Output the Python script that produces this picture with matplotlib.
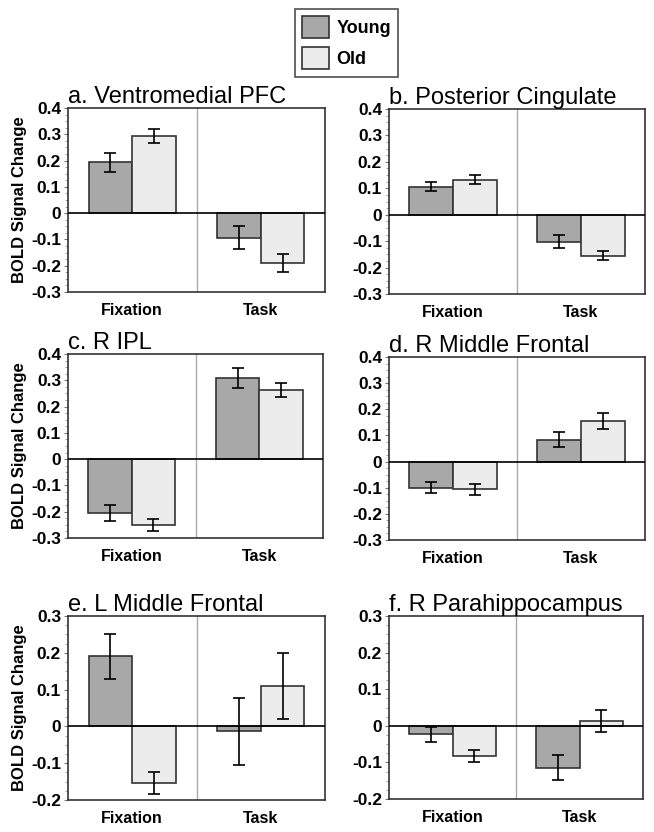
import numpy as np
import matplotlib.pyplot as plt
from matplotlib.patches import Patch
from matplotlib.ticker import MultipleLocator

plt.rcParams['font.family'] = ['Liberation Sans', 'DejaVu Sans']

conditions = ['Fixation', 'Task']
groups = ['Young', 'Old']

titles = ['a. Ventromedial PFC', 'b. Posterior Cingulate', 'c. R IPL',
          'd. R Middle Frontal', 'e. L Middle Frontal', 'f. R Parahippocampus']

# mean (fixation, task) per group, and error bar half-widths
young_vals = [[0.193, -0.093], [0.105, -0.102], [-0.204, 0.309],
              [-0.100, 0.083], [0.190, -0.013], [-0.023, -0.115]]
old_vals = [[0.295, -0.190], [0.133, -0.156], [-0.250, 0.262],
            [-0.106, 0.154], [-0.153, 0.110], [-0.082, 0.013]]
young_err = [[0.036, 0.045], [0.017, 0.025], [0.031, 0.039],
             [0.021, 0.029], [0.061, 0.091], [0.020, 0.034]]
old_err = [[0.027, 0.033], [0.017, 0.017], [0.024, 0.027],
           [0.022, 0.031], [0.030, 0.090], [0.016, 0.030]]

ylims = [(-0.3, 0.4)] * 4 + [(-0.2, 0.3)] * 2
yticks_top = [-0.3, -0.2, -0.1, 0, 0.1, 0.2, 0.3, 0.4]
yticks_bot = [-0.2, -0.1, 0, 0.1, 0.2, 0.3]

young_color = '#a8a8a8'
old_color = '#ececec'
edge = '#333333'

W, H = 654, 832
fig = plt.figure(figsize=(W / 100, H / 100), dpi=100)

# axes boxes in pixels: left, top, right, bottom
boxes = [(68, 108, 325, 292), (389, 109, 645, 294),
         (68, 354, 323, 538), (389, 357, 645, 540),
         (68, 616, 325, 800), (389, 616, 643, 799)]

x = np.arange(len(conditions))
bw = 0.34

for i, (l, t, r, b) in enumerate(boxes):
    ax = fig.add_axes([l / W, 1 - b / H, (r - l) / W, (b - t) / H])
    ekw = dict(ecolor='black', elinewidth=1.2, capsize=4, capthick=1.2)
    ax.bar(x - bw / 2, young_vals[i], bw, yerr=young_err[i], color=young_color,
           edgecolor=edge, linewidth=1.2, error_kw=ekw, zorder=2)
    ax.bar(x + bw / 2, old_vals[i], bw, yerr=old_err[i], color=old_color,
           edgecolor=edge, linewidth=1.2, error_kw=ekw, zorder=2)
    ax.axhline(0, color='black', linewidth=1.2, zorder=3)
    ax.axvline(0.5, color='#aaaaaa', linewidth=1, zorder=1)
    ax.set_xlim(-0.5, 1.5)
    ax.set_ylim(*ylims[i])
    ticks = yticks_top if i < 4 else yticks_bot
    ax.set_yticks(ticks)
    ax.set_yticklabels(['0' if v == 0 else f'{v:.1f}' for v in ticks],
                       fontsize=12.5, fontweight='bold')
    ax.yaxis.set_minor_locator(MultipleLocator(0.025))
    ax.tick_params(axis='y', which='major', length=3, color='#777777', pad=2)
    ax.tick_params(axis='y', which='minor', length=2, color='#999999')
    ax.set_xticks(x)
    ax.set_xticklabels(conditions, fontsize=11.5, fontweight='bold')
    ax.tick_params(axis='x', length=0, pad=8)
    for s in ax.spines.values():
        s.set_color(edge)
        s.set_linewidth(1.2)
    ax.set_title(titles[i], fontsize=17, loc='left', x=0.0, pad=0)
    if i % 2 == 0:
        ax.set_ylabel('BOLD Signal Change', fontsize=12, fontweight='bold', labelpad=3)

handles = [Patch(facecolor=young_color, edgecolor=edge, linewidth=1.2),
           Patch(facecolor=old_color, edgecolor=edge, linewidth=1.2)]
leg = fig.legend(handles, groups, loc='upper center', bbox_to_anchor=(0.53, 1.0),
                 frameon=True, fancybox=False, edgecolor='#222222',
                 prop={'weight': 'bold', 'size': 13}, handlelength=1.5,
                 handleheight=1.5, labelspacing=0.5, handletextpad=0.4,
                 borderpad=0.4)
leg.get_frame().set_linewidth(1.2)

fig.savefig('out.png', dpi=100)
